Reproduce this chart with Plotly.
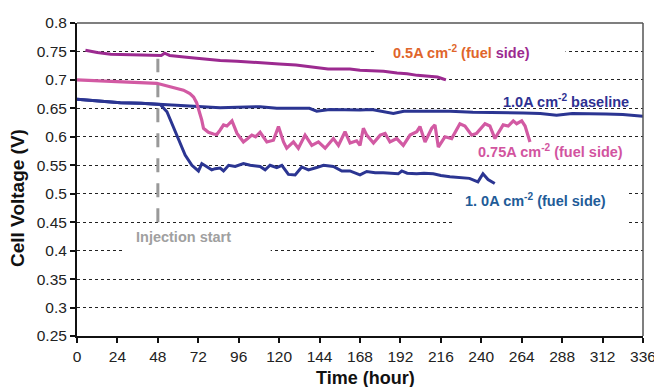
import plotly.graph_objects as go

# Cell voltage over time for the fuel-side injection tests
hours_05 = [5, 12, 20, 30, 40, 47, 50, 52, 55, 65, 79, 85, 95, 108, 120, 130, 138, 144, 149,
            155, 162, 168, 175, 182, 190, 196, 202, 208, 214, 217, 219]
volts_05 = [0.752, 0.748, 0.745, 0.744, 0.743, 0.742, 0.743, 0.747, 0.743, 0.740, 0.736, 0.734,
            0.733, 0.731, 0.728, 0.726, 0.723, 0.722, 0.719, 0.719, 0.719, 0.717, 0.716, 0.715,
            0.712, 0.711, 0.708, 0.707, 0.705, 0.702, 0.700]

hours_075 = [0, 10, 25.7, 40, 47.4, 55.3, 63.2, 67, 69.2, 71, 72.1, 74, 75.1, 78, 81, 83, 85, 87,
             89, 92, 95, 98.8, 101, 103.8, 106, 108.7, 112.7, 116.6, 119.6, 122.6, 124.5, 128.5,
             131.4, 135.4, 139.4, 143.3, 147.3, 152.2, 155.2, 159.1, 162.1, 166, 168, 170, 172,
             176, 180, 182.9, 185.8, 189.8, 193.7, 197.7, 201.7, 203.6, 206.6, 210.6, 212.5,
             214.5, 218.4, 222.4, 227.3, 230.3, 234.3, 237.2, 242.2, 245.1, 248.1, 251, 253, 256,
             259, 261, 264, 266, 268.9]
volts_075 = [0.700, 0.699, 0.697, 0.695, 0.694, 0.688, 0.682, 0.676, 0.670, 0.660, 0.650, 0.630,
             0.615, 0.608, 0.605, 0.604, 0.612, 0.621, 0.619, 0.628, 0.606, 0.591, 0.596, 0.603,
             0.600, 0.608, 0.591, 0.594, 0.618, 0.591, 0.580, 0.591, 0.580, 0.603, 0.585, 0.591,
             0.580, 0.597, 0.585, 0.609, 0.589, 0.593, 0.585, 0.615, 0.603, 0.589, 0.603, 0.606,
             0.591, 0.597, 0.585, 0.603, 0.609, 0.618, 0.591, 0.615, 0.621, 0.582, 0.600, 0.597,
             0.623, 0.619, 0.603, 0.606, 0.623, 0.619, 0.597, 0.612, 0.621, 0.619, 0.628, 0.623,
             0.628, 0.619, 0.591]

hours_base = [0, 5, 12, 25.7, 38, 49.4, 60, 70, 85, 95, 108.7, 118.6, 130, 138, 142.3, 150, 168,
              175, 187.8, 194, 205, 221.4, 235, 251, 265, 275, 284.7, 294, 304.4, 314, 324, 330,
              336]
volts_base = [0.666, 0.665, 0.663, 0.660, 0.659, 0.657, 0.655, 0.653, 0.651, 0.652, 0.653, 0.650,
              0.650, 0.650, 0.645, 0.648, 0.647, 0.648, 0.641, 0.645, 0.645, 0.645, 0.643, 0.643,
              0.642, 0.641, 0.638, 0.641, 0.641, 0.640, 0.639, 0.638, 0.636]

hours_10 = [0, 12, 25.7, 38, 49.4, 53.4, 59.3, 64.2, 68.2, 72.1, 74.1, 77.1, 80, 82, 85, 87, 90,
            93.9, 98.8, 102.8, 108.7, 111.7, 114.6, 118.6, 121.6, 125.5, 129.5, 133.4, 137.4,
            142.3, 146.3, 152.2, 157.2, 162, 168, 172, 177, 181.8, 186, 190.7, 192.8, 196, 201.6,
            206, 211.5, 216, 221.4, 227, 233, 238, 241, 244, 248]
volts_10 = [0.666, 0.663, 0.660, 0.659, 0.657, 0.644, 0.603, 0.568, 0.550, 0.540, 0.553, 0.548,
            0.542, 0.544, 0.545, 0.540, 0.550, 0.548, 0.553, 0.550, 0.548, 0.542, 0.550, 0.546,
            0.550, 0.534, 0.533, 0.547, 0.542, 0.546, 0.550, 0.548, 0.540, 0.540, 0.533, 0.539,
            0.537, 0.537, 0.536, 0.535, 0.540, 0.536, 0.535, 0.536, 0.535, 0.532, 0.530, 0.529,
            0.527, 0.521, 0.535, 0.525, 0.518]

x_ticks = [0, 24, 48, 72, 96, 120, 144, 168, 192, 216, 240, 264, 288, 312, 336]
y_ticks = [0.25, 0.3, 0.35, 0.4, 0.45, 0.5, 0.55, 0.6, 0.65, 0.7, 0.75, 0.8]
injection_hour = 48

PURPLE = "#9C2A90"
PINK = "#D25AA3"
BLUE = "#2B3592"
FONT = "Liberation Sans, Arial, sans-serif"

fig = go.Figure()
fig.add_trace(go.Scatter(x=hours_base, y=volts_base, mode="lines",
                         line=dict(color=BLUE, width=3)))
fig.add_trace(go.Scatter(x=hours_10, y=volts_10, mode="lines",
                         line=dict(color=BLUE, width=3)))
fig.add_trace(go.Scatter(x=hours_075, y=volts_075, mode="lines",
                         line=dict(color=PINK, width=3.2)))
fig.add_trace(go.Scatter(x=hours_05, y=volts_05, mode="lines",
                         line=dict(color=PURPLE, width=3)))

shapes = [
    # white patches behind the labels that interrupt the grid
    dict(type="rect", xref="x", yref="y", x0=177, x1=290, y0=0.741, y1=0.759,
         fillcolor="white", line=dict(width=0), layer="between"),
    dict(type="rect", xref="x", yref="y", x0=27.5, x1=115, y0=0.394, y1=0.4485,
         fillcolor="white", line=dict(width=0), layer="between"),
    dict(type="rect", xref="x", yref="y", x0=223, x1=326.5, y0=0.4445, y1=0.505,
         fillcolor="white", line=dict(width=0), layer="between"),
    # injection start marker
    dict(type="line", xref="x", yref="y", x0=injection_hour, x1=injection_hour,
         y0=0.45, y1=0.737, line=dict(color="#999999", width=3, dash="14px,11px"),
         layer="between"),
    # top and right frame
    dict(type="line", xref="paper", yref="paper", x0=0, x1=1, y0=1, y1=1,
         line=dict(color="#555555", width=1.5)),
    dict(type="line", xref="paper", yref="paper", x0=1, x1=1, y0=0, y1=1,
         line=dict(color="#555555", width=1.5)),
]

lbl = dict(size=14.5, family=FONT)
annotations = [
    dict(x=228, y=0.7486, xref="x", yref="y", showarrow=False,
         text="<b>0.5A cm<sup>-2</sup> (fuel <span style='color:%s'>side)</span></b>" % PURPLE,
         font=dict(color="#E0652B", **lbl)),
    dict(x=290, y=0.6627, xref="x", yref="y", showarrow=False,
         text="<b>1.0A cm<sup>-2</sup> baseline</b>", font=dict(color="#2E3192", **lbl)),
    dict(x=281, y=0.575, xref="x", yref="y", showarrow=False,
         text="<b>0.75A cm<sup>-2</sup> (fuel side)</b>", font=dict(color="#D2549F", **lbl)),
    dict(x=272, y=0.489, xref="x", yref="y", showarrow=False,
         text="<b>1. 0A cm<sup>-2</sup> (fuel side)</b>", font=dict(color="#1F5C98", **lbl)),
    dict(x=63, y=0.424, xref="x", yref="y", showarrow=False,
         text="<b>Injection start</b>", font=dict(color="#A0A0A0", **lbl)),
    dict(x=(365 - 77) / 566, y=(336 - 378) / 313, xref="paper", yref="paper", showarrow=False,
         text="<b>Time (hour)</b>", font=dict(size=18, color="#111111", family=FONT),
         xanchor="center", yanchor="middle"),
    dict(x=(17 - 77) / 566, y=(336 - 198) / 313, xref="paper", yref="paper", showarrow=False,
         text="<b>Cell Voltage (V)</b>", textangle=-90,
         font=dict(size=19, color="#111111", family=FONT),
         xanchor="center", yanchor="middle"),
]

fig.update_layout(
    width=654, height=387,
    margin=dict(l=77, r=11, t=23, b=51, autoexpand=False),
    paper_bgcolor="white", plot_bgcolor="white",
    showlegend=False,
    font=dict(family=FONT, color="#222222"),
    shapes=shapes,
    annotations=annotations,
    xaxis=dict(range=[0, 336], tickvals=x_ticks, showgrid=False, zeroline=False,
               showline=True, linecolor="#111111", linewidth=2,
               ticks="outside", ticklen=5, tickcolor="#111111", tickwidth=1.5,
               ticklabeloverflow="allow", automargin=False,
               tickfont=dict(size=15.5, color="#222222")),
    yaxis=dict(range=[0.25, 0.8], tickvals=y_ticks, showgrid=True,
               gridcolor="#222222", gridwidth=1, griddash="3px,3px", zeroline=False,
               showline=True, linecolor="#111111", linewidth=2,
               ticks="outside", ticklen=5, tickcolor="#111111", tickwidth=1.5,
               ticklabeloverflow="allow", automargin=False,
               tickfont=dict(size=15.5, color="#222222")),
)

fig.write_html("out.html")
